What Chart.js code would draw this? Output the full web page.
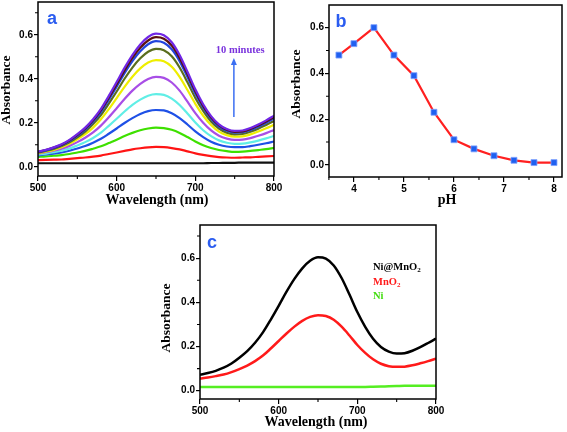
<!DOCTYPE html>
<html><head><meta charset="utf-8">
<script src="https://cdn.jsdelivr.net/npm/chart.js@4/dist/chart.umd.min.js"></script>
<style>
html,body{margin:0;padding:0;background:#fff;width:567px;height:432px;overflow:hidden;position:relative}
canvas{position:absolute}
</style></head><body>
<canvas id="ca" width="282" height="210" style="left:0px;top:0px"></canvas>
<canvas id="cb" width="285" height="210" style="left:282px;top:0px"></canvas>
<canvas id="cc" width="290" height="217" style="left:160px;top:215px"></canvas>
<script>
// ---------- DATA ----------
const wavelengths = [500,510,520,530,540,550,560,570,580,590,600,610,620,630,640,650,660,670,680,690,700,710,720,730,740,750,760,770,780,790,800];

// Panel a: spectra over time (0 ... 10 minutes)
const a_0min  = [0.016,0.016,0.016,0.016,0.016,0.016,0.016,0.016,0.016,0.016,0.016,0.016,0.016,0.016,0.016,0.016,0.016,0.016,0.016,0.016,0.016,0.016,0.017,0.017,0.018,0.018,0.019,0.019,0.019,0.019,0.019];
const a_1min  = [0.030,0.031,0.032,0.033,0.036,0.039,0.042,0.046,0.051,0.058,0.065,0.072,0.079,0.084,0.088,0.090,0.089,0.085,0.079,0.070,0.061,0.054,0.048,0.044,0.042,0.041,0.042,0.043,0.045,0.047,0.049];
const a_2min  = [0.045,0.047,0.050,0.053,0.058,0.065,0.072,0.082,0.093,0.108,0.123,0.140,0.154,0.166,0.174,0.178,0.176,0.168,0.154,0.135,0.115,0.098,0.085,0.076,0.071,0.068,0.069,0.072,0.076,0.080,0.086];
const a_3min  = [0.052,0.056,0.060,0.065,0.073,0.083,0.094,0.109,0.127,0.150,0.174,0.199,0.221,0.240,0.253,0.258,0.256,0.243,0.221,0.192,0.161,0.135,0.114,0.100,0.092,0.089,0.089,0.094,0.100,0.107,0.115];
const a_4min  = [0.056,0.060,0.066,0.073,0.083,0.097,0.112,0.131,0.155,0.186,0.218,0.251,0.281,0.305,0.323,0.330,0.327,0.310,0.281,0.242,0.201,0.166,0.139,0.120,0.109,0.104,0.105,0.111,0.119,0.129,0.140];
const a_5min  = [0.060,0.066,0.073,0.082,0.095,0.112,0.132,0.156,0.187,0.225,0.266,0.308,0.346,0.377,0.399,0.409,0.404,0.383,0.346,0.296,0.244,0.200,0.165,0.141,0.128,0.122,0.123,0.130,0.141,0.153,0.167];
const a_6min  = [0.062,0.069,0.077,0.089,0.104,0.125,0.148,0.178,0.216,0.262,0.312,0.363,0.409,0.447,0.474,0.485,0.480,0.455,0.409,0.349,0.286,0.232,0.190,0.160,0.144,0.137,0.138,0.147,0.160,0.175,0.191];
const a_7min  = [0.064,0.072,0.081,0.094,0.111,0.134,0.160,0.194,0.235,0.287,0.342,0.400,0.451,0.493,0.523,0.536,0.530,0.502,0.451,0.384,0.313,0.254,0.206,0.174,0.155,0.147,0.149,0.159,0.173,0.190,0.208];
const a_8min  = [0.066,0.074,0.085,0.098,0.117,0.141,0.169,0.205,0.249,0.305,0.364,0.425,0.480,0.525,0.557,0.571,0.564,0.534,0.480,0.408,0.333,0.269,0.218,0.183,0.164,0.155,0.157,0.167,0.182,0.200,0.220];
const a_9min  = [0.067,0.076,0.087,0.100,0.120,0.145,0.174,0.211,0.257,0.314,0.375,0.438,0.495,0.541,0.574,0.589,0.582,0.551,0.495,0.421,0.343,0.277,0.225,0.189,0.168,0.159,0.161,0.172,0.188,0.206,0.226];
const a_10min = [0.068,0.077,0.088,0.102,0.122,0.148,0.178,0.216,0.263,0.322,0.385,0.450,0.508,0.556,0.590,0.605,0.598,0.566,0.508,0.432,0.352,0.284,0.230,0.193,0.172,0.163,0.165,0.176,0.192,0.211,0.232];
const a_series = [a_0min,a_1min,a_2min,a_3min,a_4min,a_5min,a_6min,a_7min,a_8min,a_9min,a_10min];
const a_ticksX = [500,600,700,800];
const a_ticksY = [0.0,0.2,0.4,0.6];
const a_minorX = [550,650,750];
const a_minorY = [0.1,0.3,0.5,0.7];

// Panel b: absorbance vs pH
const pHValues = [3.7,4.0,4.4,4.8,5.2,5.6,6.0,6.4,6.8,7.2,7.6,8.0];
const pHAbsorbance = [0.48,0.53,0.60,0.48,0.39,0.23,0.11,0.07,0.04,0.02,0.01,0.01];
const b_ticksX = [4,5,6,7,8];
const b_ticksY = [0.0,0.2,0.4,0.6];
const b_minorX = [3.5,4.5,5.5,6.5,7.5];
const b_minorY = [0.1,0.3,0.5];

// Panel c: comparison
const c_NiMnO2 = [0.072,0.080,0.090,0.104,0.123,0.149,0.179,0.217,0.264,0.322,0.384,0.448,0.506,0.554,0.588,0.604,0.598,0.567,0.510,0.435,0.356,0.289,0.235,0.198,0.177,0.168,0.170,0.181,0.197,0.216,0.236];
const c_MnO2   = [0.055,0.060,0.066,0.073,0.084,0.098,0.114,0.134,0.159,0.191,0.225,0.259,0.290,0.316,0.334,0.342,0.338,0.321,0.290,0.250,0.207,0.171,0.142,0.122,0.111,0.108,0.109,0.115,0.124,0.134,0.145];
const c_Ni     = [0.017,0.017,0.017,0.017,0.017,0.017,0.017,0.017,0.017,0.017,0.017,0.017,0.017,0.017,0.017,0.017,0.017,0.017,0.017,0.017,0.017,0.017,0.018,0.019,0.020,0.021,0.022,0.022,0.022,0.022,0.022];
const c_labels = ['Ni@MnO', 'MnO', 'Ni'];

// ---------- STYLE ----------
const aColors = ['#111111','#ff1414','#3ee000','#1e50e6','#60eee6','#a84ee6','#eeee00','#5a6e1e','#2244dd','#5a1010','#7026e6'];
const SERIF = '"Liberation Serif", "Times New Roman", serif';
const SANS = '"Liberation Sans", Arial, sans-serif';
const LETTER_BLUE = '#2a5cf0';

function pts(xs, ys){ return xs.map((x,i)=>({x:x, y:ys[i]})); }

function xScale(min,max,ticks,height){
  return {type:'linear',min:min,max:max,
    afterBuildTicks:s=>{s.ticks=ticks.map(v=>({value:v}));},
    afterFit:s=>{s.height=height;s.paddingLeft=0;s.paddingRight=0;s.paddingTop=0;s.paddingBottom=0;},
    ticks:{font:{family:SANS,weight:'bold',size:10},color:'#000',padding:1,maxRotation:0,autoSkip:false,callback:v=>String(v)},
    grid:{display:true,drawOnChartArea:false,drawTicks:true,tickLength:5,color:'#000',lineWidth:1.2},
    border:{display:false}};
}
function yScale(min,max,ticks,width){
  return {type:'linear',min:min,max:max,
    afterBuildTicks:s=>{s.ticks=ticks.map(v=>({value:v}));},
    afterFit:s=>{s.width=width;s.paddingLeft=0;s.paddingRight=0;s.paddingTop=0;s.paddingBottom=0;},
    ticks:{font:{family:SANS,weight:'bold',size:10},color:'#000',padding:1,autoSkip:false,callback:v=>Number(v).toFixed(1)},
    grid:{display:true,drawOnChartArea:false,drawTicks:true,tickLength:4,color:'#000',lineWidth:1.2},
    border:{display:false}};
}

function panelPlugin(cfg){
  return {id:'panel'+cfg.letter, afterDraw(chart){
    const ctx=chart.ctx, a=chart.chartArea, x=chart.scales.x, y=chart.scales.y;
    ctx.save();
    ctx.strokeStyle='#000'; ctx.lineWidth=1.5;
    ctx.strokeRect(a.left,a.top,a.right-a.left,a.bottom-a.top);
    ctx.lineWidth=1.1; ctx.beginPath();
    cfg.minorX.forEach(v=>{const p=x.getPixelForValue(v); ctx.moveTo(p,a.bottom); ctx.lineTo(p,a.bottom+3);});
    cfg.minorY.forEach(v=>{const p=y.getPixelForValue(v); ctx.moveTo(a.left,p); ctx.lineTo(a.left-3,p);});
    ctx.stroke();
    ctx.fillStyle='#000'; ctx.textAlign='center'; ctx.textBaseline='middle';
    ctx.save(); ctx.translate(cfg.yTitle[0],cfg.yTitle[1]); ctx.rotate(-Math.PI/2);
    ctx.font='bold 13.5px '+SERIF; ctx.fillText('Absorbance',0,0); ctx.restore();
    ctx.font='bold 14px '+SERIF; ctx.fillText(cfg.xTitleText,cfg.xTitle[0],cfg.xTitle[1]);
    ctx.fillStyle=LETTER_BLUE; ctx.font='bold 18px '+SANS;
    ctx.fillText(cfg.letter,a.left+cfg.letterPos[0],a.top+cfg.letterPos[1]);
    if(cfg.extra) cfg.extra(chart,ctx,a,x,y);
    ctx.restore();
  }};
}

const common = {responsive:false,animation:false,devicePixelRatio:1,events:[],
  plugins:{legend:{display:false},tooltip:{enabled:false}}};

// ---------- PANEL A ----------
new Chart(document.getElementById('ca'),{
  type:'line',
  data:{datasets:a_series.map((s,i)=>({data:pts(wavelengths,s),borderColor:aColors[i],borderWidth:2.2,pointRadius:0,cubicInterpolationMode:'monotone',fill:false,order:10-i}))},
  options:Object.assign({},common,{
    layout:{padding:{left:0,top:2,right:8,bottom:0}},
    scales:{x:xScale(500,800,a_ticksX,34),y:yScale(-0.042,0.749,a_ticksY,38)}
  }),
  plugins:[panelPlugin({letter:'a',minorX:a_minorX,minorY:a_minorY,yTitle:[7,90],xTitle:[157,200],xTitleText:'Wavelength (nm)',letterPos:[14,17],
    extra:(chart,ctx,a,x,y)=>{
      const ax=x.getPixelForValue(749), y1=y.getPixelForValue(0.226), y2=y.getPixelForValue(0.494);
      ctx.strokeStyle='#3b6ff2'; ctx.fillStyle='#3b6ff2'; ctx.lineWidth=1.5;
      ctx.beginPath(); ctx.moveTo(ax,y1); ctx.lineTo(ax,y2+5); ctx.stroke();
      ctx.beginPath(); ctx.moveTo(ax,y2); ctx.lineTo(ax-3,y2+7); ctx.lineTo(ax+3,y2+7); ctx.closePath(); ctx.fill();
      ctx.fillStyle='#7a33dd'; ctx.font='bold 10.5px '+SERIF; ctx.textAlign='center'; ctx.textBaseline='middle';
      ctx.fillText('10 minutes',x.getPixelForValue(757),y.getPixelForValue(0.530));
    }})]
});

// ---------- PANEL B ----------
new Chart(document.getElementById('cb'),{
  type:'line',
  data:{datasets:[{data:pts(pHValues,pHAbsorbance),borderColor:'#ff2020',borderWidth:2.2,tension:0,
    pointStyle:'rect',pointRadius:4.2,pointBackgroundColor:'#2060f0',pointBorderColor:'#7fa2ff',pointBorderWidth:0.8,fill:false}]},
  options:Object.assign({},common,{
    layout:{padding:{left:0,top:2,right:4,bottom:0}},
    scales:{x:xScale(3.502,8.16,b_ticksX,33),y:yScale(-0.053,0.699,b_ticksY,47)}
  }),
  plugins:[panelPlugin({letter:'b',minorX:b_minorX,minorY:b_minorY,yTitle:[15,84],xTitle:[165,200],xTitleText:'pH',letterPos:[12,17]})]
});

// ---------- PANEL C ----------
const cColors = ['#000000','#ff1a1a','#55ee22'];
new Chart(document.getElementById('cc'),{
  type:'line',
  data:{datasets:[c_NiMnO2,c_MnO2,c_Ni].map((s,i)=>({data:pts(wavelengths,s),borderColor:cColors[i],borderWidth:2.5,pointRadius:0,cubicInterpolationMode:'monotone',fill:false,order:i}))},
  options:Object.assign({},common,{
    layout:{padding:{left:0,top:10,right:14,bottom:0}},
    scales:{x:xScale(500,800,a_ticksX,33),y:yScale(-0.0375,0.750,a_ticksY,40)}
  }),
  plugins:[panelPlugin({letter:'c',minorX:a_minorX,minorY:a_minorY,yTitle:[7,103],xTitle:[156,207],xTitleText:'Wavelength (nm)',letterPos:[12,18],
    extra:(chart,ctx,a,x,y)=>{
      const rows=[[c_labels[0],cColors[0],true,42],[c_labels[1],cColors[1],true,57],[c_labels[2],'#44dd11',false,71]];
      ctx.textAlign='left'; ctx.textBaseline='middle';
      rows.forEach(r=>{
        ctx.fillStyle=r[1]; ctx.font='bold 10.5px '+SERIF;
        const tx=a.left+173, ty=a.top+r[3];
        ctx.fillText(r[0],tx,ty);
        if(r[2]){ const w=ctx.measureText(r[0]).width; ctx.font='bold 7px '+SERIF; ctx.fillText('2',tx+w,ty+3); }
      });
    }})]
});
</script>
</body></html>
